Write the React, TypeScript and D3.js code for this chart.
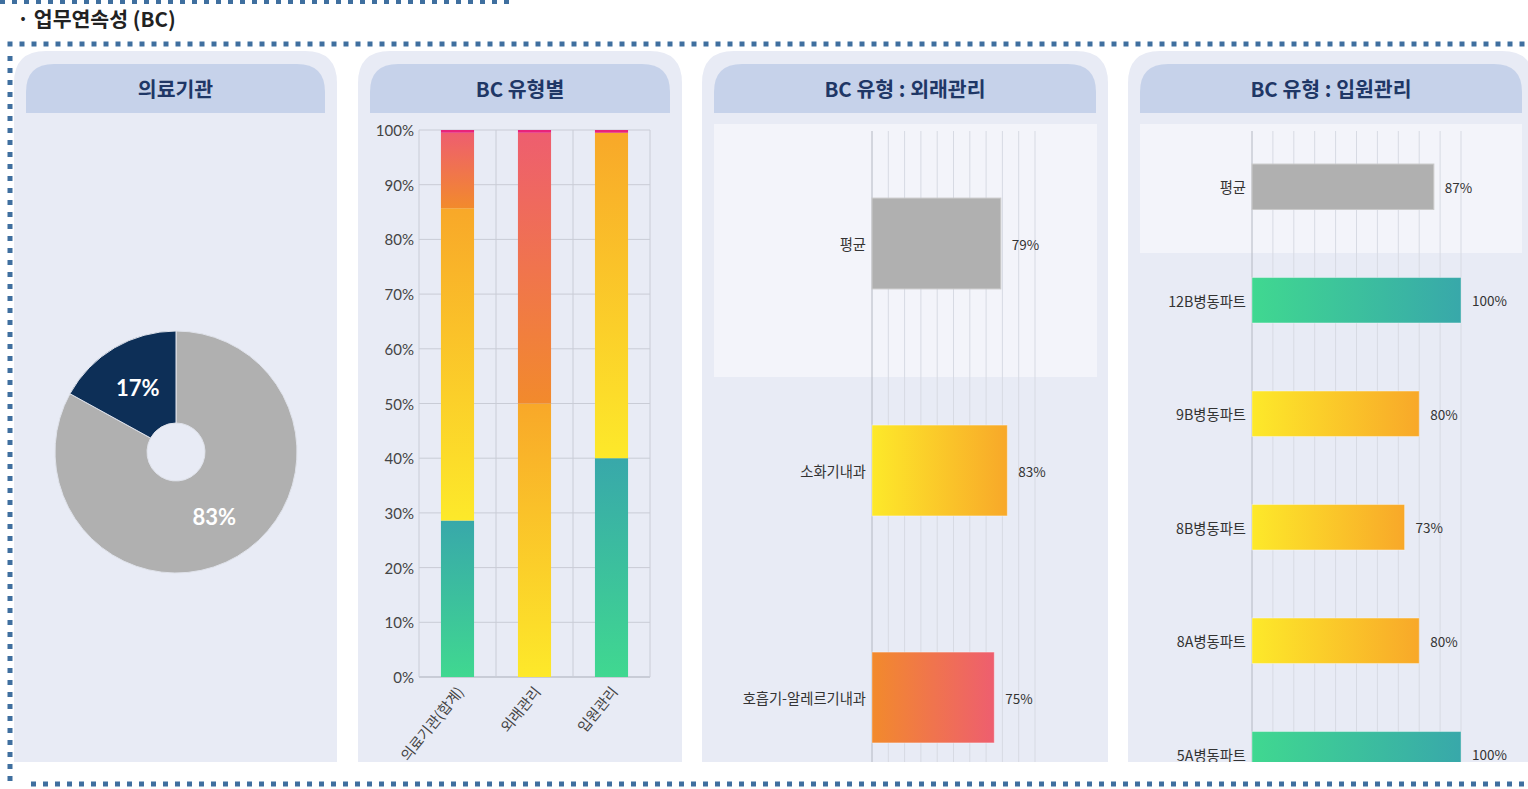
import React from 'react';
import * as d3 from 'd3';

// ---------- data ----------
const donutLabels = ['해당', '미해당'];
const donutValues = [83, 17];

const stackCats = ['의료기관(합계)', '외래관리', '입원관리'];
const stackGreen = [28.6, 0, 40.0];
const stackYellow = [57.1, 50.0, 59.5];
const stackRed = [13.8, 49.5, 0];
const stackMagenta = [0.5, 0.5, 0.5];
const yTicks = [0, 10, 20, 30, 40, 50, 60, 70, 80, 90, 100];

const outCats = ['평균', '소화기내과', '호흡기-알레르기내과'];
const outValues = [79, 83, 75];
const outKinds = ['gray', 'yellow', 'red'];

const inCats = ['평균', '12B병동파트', '9B병동파트', '8B병동파트', '8A병동파트', '5A병동파트'];
const inValues = [87, 100, 80, 73, 80, 100];
const inKinds = ['gray', 'green', 'yellow', 'yellow', 'yellow', 'green'];

// ---------- styles ----------
const PANEL_BG = '#e8ebf5';
const HEADER_BG = '#c6d2ea';
const DOT = '#3f6f9f';
const KR = "'Noto Sans CJK KR', 'Noto Sans', sans-serif";
const LATO = "Lato, 'Noto Sans', sans-serif";
const PANEL_TOP = 51;
const PANEL_BOTTOM = 762;

const grad: Record<string, [string, string]> = {
  green: ['#40d890', '#38a8aa'],
  yellow: ['#fde92a', '#f8a829'],
  red: ['#f28a2c', '#ee5e6f'],
};

function panelPath(x: number, y: number, w: number, h: number, r: number) {
  return `M${x},${y + h} L${x},${y + r} Q${x},${y} ${x + r},${y} L${x + w - r},${y} Q${x + w},${y} ${x + w},${y + r} L${x + w},${y + h} Z`;
}

function Panel({ id, x, w, title }: { id: string; x: number; w: number; title: string }) {
  const hx = x + 12;
  const hw = w - 24;
  return (
    <g>
      <path d={panelPath(x, PANEL_TOP, w, PANEL_BOTTOM - PANEL_TOP, 32)} fill={PANEL_BG} />
      <path d={panelPath(hx, 64, hw, 49, 28)} fill={HEADER_BG} />
      <text x={hx + hw / 2} y={88} textAnchor="middle" dominantBaseline="central"
        fontFamily={KR} fontWeight={700} fontSize={20.5} fill="#1f3766">{title}</text>
      <clipPath id={id}>
        <rect x={x} y={PANEL_TOP} width={w} height={PANEL_BOTTOM - PANEL_TOP} />
      </clipPath>
    </g>
  );
}

function Donut() {
  const cx = 176, cy = 452;
  const pie = d3.pie<number>().sort(null).value(d => d);
  const arcs = pie(donutValues);
  const arc = d3.arc<d3.PieArcDatum<number>>().innerRadius(29).outerRadius(121);
  const colors = ['#b0b0b0', '#0d2f57'];
  return (
    <g transform={`translate(${cx},${cy})`}>
      {arcs.map((a, i) => (
        <path key={donutLabels[i]} d={arc(a) || ''} fill={colors[i]} stroke="#dfe2ea" strokeWidth={1} />
      ))}
      {arcs.map((a, i) => {
        const [lx, ly] = arc.centroid(a);
        return (
          <text key={'l' + i} x={lx} y={ly} textAnchor="middle" dominantBaseline="central"
            fontFamily={LATO} fontWeight={700} fontSize={22} fill="#ffffff">{donutValues[i]}%</text>
        );
      })}
    </g>
  );
}

function Stacked() {
  const x = d3.scaleBand<string>().domain(stackCats).range([419, 650]).paddingInner(0.57).paddingOuter(0.285);
  const y = d3.scaleLinear().domain([0, 100]).range([677, 130]);
  const keys = ['green', 'yellow', 'red', 'magenta'];
  const rows = stackCats.map((c, i) => ({ cat: c, green: stackGreen[i], yellow: stackYellow[i], red: stackRed[i], magenta: stackMagenta[i] }));
  const stack = d3.stack<any>().keys(keys)(rows);
  const bandEdges = [419, ...stackCats.map(c => (x(c) as number) + x.bandwidth() / 2 + x.step() / 2)];
  return (
    <g>
      {yTicks.map(t => (
        <g key={t}>
          <line x1={419} x2={650} y1={y(t)} y2={y(t)} stroke={t === 0 ? '#a9adb8' : '#c9ccd6'} strokeWidth={1} />
          <text x={414} y={y(t)} textAnchor="end" dominantBaseline="central" fontFamily={LATO} fontSize={15} fill="#444">{t}%</text>
        </g>
      ))}
      {bandEdges.map((e, i) => (
        <line key={'v' + i} x1={e} x2={e} y1={130} y2={677} stroke="#c9ccd6" strokeWidth={1} />
      ))}
      {stack.map(layer => layer.map((d, i) => {
        const h = y(d[0]) - y(d[1]);
        if (h <= 0) return null;
        const key = layer.key;
        const fill = key === 'magenta' ? '#e8237a' : `url(#v-${key})`;
        return (
          <rect key={key + i} x={x(stackCats[i])} width={x.bandwidth()} y={y(d[1])} height={h} fill={fill} />
        );
      }))}
      {stackCats.map(c => {
        const cxp = (x(c) as number) + x.bandwidth() / 2 + 2;
        return (
          <text key={c} transform={`translate(${cxp},${688}) rotate(-51)`} textAnchor="end" dominantBaseline="central"
            fontFamily={KR} fontSize={14.5} fill="#444">{c}</text>
        );
      })}
    </g>
  );
}

function HBars({ cats, vals, kinds, x0, x1, hl }: { cats: string[]; vals: number[]; kinds: string[]; x0: number; x1: number; hl: [number, number, number, number] }) {
  const x = d3.scaleLinear().domain([0, 100]).range([x0, x1]);
  const y = d3.scaleBand<string>().domain(cats).range([130, 811]).paddingInner(0.6).paddingOuter(0.3);
  const ticks = x.ticks(10);
  return (
    <g>
      <rect x={hl[0]} y={hl[1]} width={hl[2] - hl[0]} height={hl[3] - hl[1]} fill="#f3f4fa" />
      {ticks.map(t => (
        <line key={t} x1={x(t)} x2={x(t)} y1={131} y2={811} stroke={t === 0 ? '#b4b8c2' : '#d7dae3'} strokeWidth={1} />
      ))}
      {cats.map((c, i) => {
        const yy = y(c) as number;
        const bw = y.bandwidth();
        const k = kinds[i];
        const fill = k === 'gray' ? '#b0b0b0' : `url(#h-${k})`;
        const stroke = k === 'gray' ? '#c9c9c9' : 'rgba(255,255,255,0.35)';
        return (
          <g key={c}>
            <rect x={x(0)} y={yy} width={x(vals[i]) - x(0)} height={bw} fill={fill} stroke={stroke} strokeWidth={1} />
            <text x={x(0) - 6} y={yy + bw / 2} textAnchor="end" dominantBaseline="central" fontFamily={KR} fontSize={14.3} fill="#333">{c}</text>
            <text x={x(vals[i]) + 11} y={yy + bw / 2} textAnchor="start" dominantBaseline="central" fontFamily={KR} fontSize={13.5} fill="#333">{vals[i]}%</text>
          </g>
        );
      })}
    </g>
  );
}

export default function App() {
  return (
    <div style={{ position: 'absolute', left: 0, top: 0 }}>
      <svg width={1528} height={789} style={{ display: 'block', background: '#ffffff' }}>
        <defs>
          {Object.entries(grad).map(([k, [a, b]]) => (
            <React.Fragment key={k}>
              <linearGradient id={`v-${k}`} x1="0" y1="1" x2="0" y2="0">
                <stop offset="0" stopColor={a} />
                <stop offset="1" stopColor={b} />
              </linearGradient>
              <linearGradient id={`h-${k}`} x1="0" y1="0" x2="1" y2="0">
                <stop offset="0" stopColor={a} />
                <stop offset="1" stopColor={b} />
              </linearGradient>
            </React.Fragment>
          ))}
        </defs>
        {/* top decorative dotted line */}
        <line x1={0} x2={512} y1={1.5} y2={1.5} stroke={DOT} strokeWidth={5} strokeDasharray="5 7" />
        <text x={17} y={18} dominantBaseline="central" fontFamily={KR} fontWeight={700} fontSize={20.5} fill="#222">· 업무연속성 (BC)</text>
        {/* frame */}
        <line x1={7.5} x2={1528} y1={44} y2={44} stroke={DOT} strokeWidth={5} strokeDasharray="5 7" />
        <line x1={10} x2={10} y1={56} y2={784} stroke={DOT} strokeWidth={5} strokeDasharray="5 7" />
        <line x1={31} x2={1528} y1={784} y2={784} stroke={DOT} strokeWidth={5} strokeDasharray="5 7" />

        <Panel id="c1" x={14} w={323} title="의료기관" />
        <Panel id="c2" x={358} w={324} title="BC 유형별" />
        <Panel id="c3" x={702} w={406} title="BC 유형 : 외래관리" />
        <Panel id="c4" x={1128} w={406} title="BC 유형 : 입원관리" />

        <g clipPath="url(#c1)"><Donut /></g>
        <g clipPath="url(#c2)"><Stacked /></g>
        <g clipPath="url(#c3)">
          <HBars cats={outCats} vals={outValues} kinds={outKinds} x0={872} x1={1035} hl={[714, 124, 1097, 377]} />
        </g>
        <g clipPath="url(#c4)">
          <HBars cats={inCats} vals={inValues} kinds={inKinds} x0={1252} x1={1461} hl={[1140, 124, 1522, 253]} />
        </g>
      </svg>
    </div>
  );
}
